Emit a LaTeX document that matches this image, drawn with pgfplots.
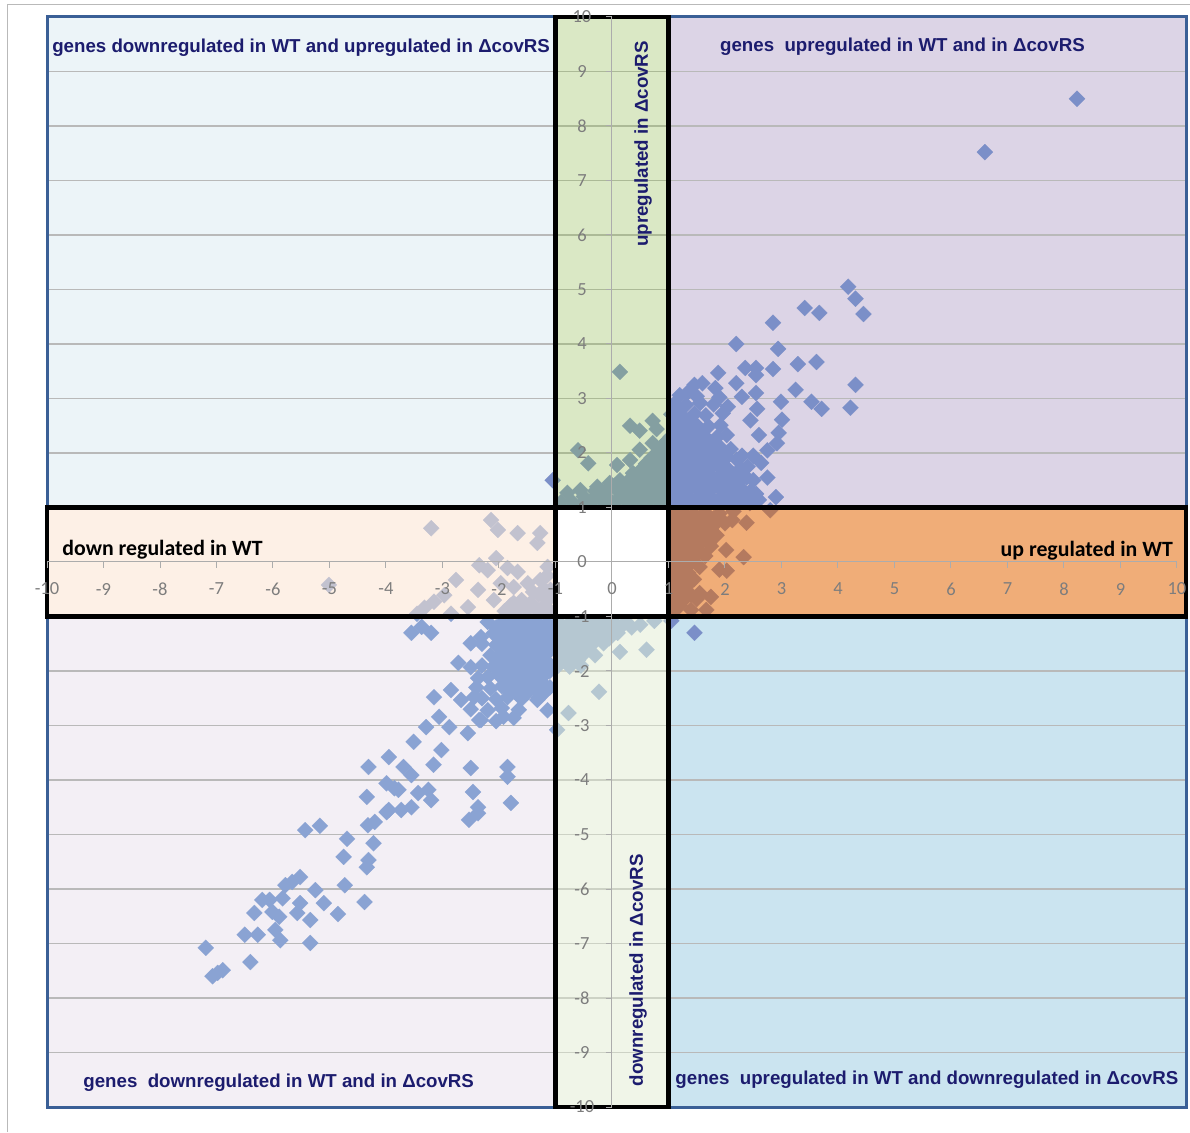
\documentclass[border=0pt]{standalone}
\usepackage{fontspec}
\usepackage{pgfplots}
\pgfplotsset{compat=1.18}
\setmainfont{Liberation Sans}
\newfontfamily\carlito{Carlito}
\definecolor{bgTL}{RGB}{236,244,248}
\definecolor{bgTR}{RGB}{220,212,230}
\definecolor{bgBL}{RGB}{243,239,245}
\definecolor{bgBR}{RGB}{203,228,240}
\definecolor{ovTG}{RGB}{150,190,90}
\definecolor{ovBG}{RGB}{225,235,209}
\definecolor{ovPE}{RGB}{251,225,205}
\definecolor{ovOR}{RGB}{228,105,10}
\definecolor{ptA}{RGB}{123,143,200}
\definecolor{ptB}{RGB}{138,163,211}
\definecolor{qblue}{RGB}{58,95,150}
\definecolor{navy}{RGB}{28,28,110}
\definecolor{gridc}{RGB}{185,185,185}
\definecolor{ticklab}{RGB}{125,125,125}
\newcommand{\titlefont}{\bfseries\fontsize{18.7}{20}\selectfont}
\begin{document}
\begin{tikzpicture}
\path[use as bounding box] (-47pt,-25pt) rectangle (1143pt,1107pt);
\begin{axis}[
  at={(0pt,0pt)}, anchor=south west,
  width=1130pt, height=1090pt, scale only axis,
  xmin=-10, xmax=10, ymin=-10, ymax=10, enlargelimits=false,
  axis lines=middle, axis on top, clip=false, clip marker paths=true,
  axis line style={draw=gray!65, line width=1pt, -},
  xtick={-10,...,10}, ytick={-10,...,10},
  hide obscured x ticks=false, hide obscured y ticks=false,
  tick align=outside, major tick length=6pt,
  every tick/.style={draw=gray!65, line width=1pt},
  /pgf/number format/assume math mode=true,
  tick label style={font=\carlito\fontsize{18.5}{18.5}\selectfont, text=ticklab},
  xticklabel style={anchor=center, yshift=-21pt},
  yticklabel style={anchor=center, xshift=-24pt},
]
\fill[bgTL] (axis cs:-10,1) rectangle (axis cs:-1,10);
\fill[bgTR] (axis cs:1,1) rectangle (axis cs:10.16,10);
\fill[bgBL] (axis cs:-10,-10) rectangle (axis cs:-1,-1);
\fill[bgBR] (axis cs:1,-10) rectangle (axis cs:10.16,-1);
\draw[gridc, line width=1.5pt]
 (axis cs:-10,1) -- (axis cs:10.16,1) (axis cs:-10,2) -- (axis cs:10.16,2)
 (axis cs:-10,3) -- (axis cs:10.16,3) (axis cs:-10,4) -- (axis cs:10.16,4)
 (axis cs:-10,5) -- (axis cs:10.16,5) (axis cs:-10,6) -- (axis cs:10.16,6)
 (axis cs:-10,7) -- (axis cs:10.16,7) (axis cs:-10,8) -- (axis cs:10.16,8)
 (axis cs:-10,9) -- (axis cs:10.16,9)
 (axis cs:-10,-1) -- (axis cs:10.16,-1) (axis cs:-10,-2) -- (axis cs:10.16,-2)
 (axis cs:-10,-3) -- (axis cs:10.16,-3) (axis cs:-10,-4) -- (axis cs:10.16,-4)
 (axis cs:-10,-5) -- (axis cs:10.16,-5) (axis cs:-10,-6) -- (axis cs:10.16,-6)
 (axis cs:-10,-7) -- (axis cs:10.16,-7) (axis cs:-10,-8) -- (axis cs:10.16,-8)
 (axis cs:-10,-9) -- (axis cs:10.16,-9);
% series A (upper right)
\addplot[ptA, only marks, mark=square*, mark size=5.7pt, mark options={rotate=45, draw=ptA, fill=ptA, line width=0.1pt}] table {
x y
8.23 8.50
6.60 7.52
4.18 5.05
4.31 4.83
4.45 4.55
3.41 4.66
3.67 4.57
2.85 4.39
2.20 4.00
2.94 3.91
2.36 3.56
2.55 3.56
2.55 3.43
2.85 3.54
3.29 3.63
3.62 3.67
1.88 3.47
1.46 3.25
1.83 3.19
2.20 3.28
2.30 3.03
2.55 3.10
2.99 2.94
3.25 3.16
4.31 3.25
3.53 2.94
3.71 2.81
4.22 2.83
2.57 2.81
3.01 2.61
2.95 2.37
2.92 2.18
2.60 2.33
2.64 1.82
2.90 1.19
2.60 1.14
1.60 3.28
1.35 3.12
2.05 2.85
2.45 2.60
2.75 2.05
2.50 1.95
2.75 1.55
2.45 1.30
2.50 1.50
2.40 1.75
2.30 1.95
2.55 1.25
1.05 1.10
1.27 1.08
1.46 1.12
1.66 1.07
1.86 1.11
2.06 1.06
2.27 1.12
2.44 1.08
1.12 1.31
1.31 1.28
1.52 1.32
1.71 1.29
1.92 1.33
2.11 1.27
2.32 1.31
1.04 1.50
1.24 1.52
1.46 1.48
1.64 1.53
1.86 1.49
2.06 1.52
2.24 1.47
2.38 1.55
1.11 1.71
1.29 1.68
1.51 1.72
1.70 1.69
1.91 1.73
2.08 1.68
2.28 1.72
1.05 1.90
1.26 1.92
1.44 1.88
1.66 1.91
1.84 1.89
2.04 1.93
2.21 1.88
1.12 2.11
1.30 2.08
1.51 2.12
1.69 2.09
1.90 2.12
2.10 2.07
1.04 2.30
1.26 2.32
1.46 2.28
1.64 2.31
1.86 2.29
2.03 2.33
1.11 2.50
1.31 2.48
1.49 2.52
1.71 2.49
1.92 2.51
1.05 2.71
1.24 2.68
1.46 2.72
1.66 2.69
1.96 2.73
1.10 2.90
1.31 2.88
1.56 2.92
1.80 2.89
1.20 3.06
1.50 3.04
1.90 3.02
1.15 1.20
1.35 1.20
1.55 1.20
1.75 1.20
1.95 1.20
2.15 1.20
2.35 1.20
1.15 1.40
1.35 1.40
1.55 1.40
1.75 1.40
1.95 1.40
2.15 1.40
1.15 1.60
1.35 1.60
1.55 1.60
1.75 1.60
1.95 1.60
2.15 1.60
1.15 1.80
1.35 1.80
1.55 1.80
1.75 1.80
1.95 1.80
1.15 2.00
1.35 2.00
1.55 2.00
1.75 2.00
1.95 2.00
1.15 2.20
1.35 2.20
1.55 2.20
1.75 2.20
1.15 2.40
1.35 2.40
1.55 2.40
1.15 2.60
1.35 2.60
1.15 2.80
0.14 3.49
0.32 2.50
0.49 2.41
0.72 2.59
0.79 2.44
-0.60 2.05
-0.42 1.81
0.09 1.78
0.32 1.87
0.49 2.06
0.72 2.18
-0.79 1.27
-0.56 1.32
-0.26 1.38
-0.04 1.45
0.14 1.50
0.37 1.63
0.61 1.74
0.79 1.87
-0.16 1.19
0.26 1.27
0.61 1.32
0.79 1.45
-1.05 1.50
-0.15 1.10
0.05 1.08
0.25 1.12
0.45 1.07
0.65 1.11
0.85 1.09
0.10 1.31
0.30 1.28
0.50 1.32
0.70 1.29
0.90 1.30
0.30 1.50
0.50 1.52
0.70 1.48
0.90 1.51
0.52 1.70
0.70 1.72
0.90 1.69
0.70 1.91
0.90 1.90
0.86 2.10
-0.90 1.10
-0.70 1.10
-0.50 1.10
-0.35 1.10
-0.50 1.20
-0.30 1.20
-0.10 1.20
0.15 1.20
0.35 1.20
0.55 1.20
0.75 1.20
0.95 1.20
-0.30 1.30
-0.10 1.30
0.05 1.40
0.20 1.40
0.40 1.40
0.60 1.40
0.80 1.40
0.95 1.40
0.40 1.60
0.60 1.60
0.80 1.60
0.95 1.60
0.60 1.80
0.80 1.80
0.95 1.80
0.80 2.00
0.95 2.00
0.95 2.20
1.32 0.77
1.55 0.59
1.85 0.72
2.13 0.77
2.38 0.72
1.72 0.35
2.02 0.22
2.33 0.09
2.03 -0.16
1.37 -0.39
1.67 -0.88
2.80 0.95
1.05 0.90
1.25 0.92
1.45 0.88
1.65 0.91
1.90 0.89
2.15 0.93
1.10 0.70
1.30 0.68
1.50 0.72
1.70 0.69
2.00 0.71
1.05 0.50
1.25 0.52
1.45 0.48
1.65 0.51
1.85 0.49
1.10 0.30
1.30 0.28
1.50 0.32
1.75 0.29
1.05 0.10
1.25 0.12
1.45 0.08
1.65 0.11
1.10 -0.10
1.30 -0.12
1.55 -0.09
1.90 -0.14
1.05 -0.30
1.25 -0.28
1.45 -0.32
1.10 -0.50
1.30 -0.52
1.55 -0.57
1.05 -0.70
1.25 -0.72
1.50 -0.68
1.75 -0.64
1.10 -0.90
1.40 -0.88
1.15 0.80
1.35 0.80
1.55 0.80
1.80 0.80
1.15 0.60
1.35 0.60
1.55 0.60
1.75 0.60
1.15 0.40
1.35 0.40
1.60 0.40
1.15 0.20
1.35 0.20
1.55 0.20
1.15 0.00
1.40 0.00
1.15 -0.20
1.35 -0.20
1.15 -0.40
1.35 -0.40
1.15 -0.60
1.40 -0.60
1.20 -0.80
1.46 -1.30
1.05 -1.08
};
% series B (lower left)
\addplot[ptB, only marks, mark=square*, mark size=5.7pt, mark options={rotate=45, draw=ptB, fill=ptB, line width=0.1pt}] table {
x y
-3.20 0.62
-2.14 0.77
-2.02 0.59
-1.67 0.53
-1.27 0.53
-1.32 0.35
-2.05 0.07
-2.35 -0.06
-2.20 -0.15
-1.85 -0.11
-1.67 -0.18
-1.97 -0.39
-1.74 -0.46
-1.49 -0.39
-1.27 -0.33
-1.14 -0.09
-2.76 -0.33
-2.37 -0.51
-2.97 -0.61
-3.15 -0.73
-3.32 -0.84
-2.55 -0.83
-2.09 -0.70
-1.74 -0.75
-1.44 -0.75
-1.14 -0.70
-1.09 -0.51
-5.01 -0.42
-1.90 -0.90
-1.70 -0.92
-1.50 -0.88
-1.30 -0.91
-1.10 -0.89
-1.60 -0.70
-1.40 -0.55
-1.20 -0.50
-1.15 -0.25
-2.85 -0.95
-3.45 -0.95
-1.80 -0.80
-1.60 -0.80
-1.40 -0.80
-1.20 -0.80
-1.30 -0.60
-1.10 -0.60
-3.55 -1.30
-3.37 -1.19
-3.20 -1.30
-2.50 -1.49
-2.32 -1.38
-2.72 -1.85
-2.50 -1.93
-2.37 -2.13
-3.15 -2.48
-2.85 -2.35
-2.67 -2.53
-2.44 -2.48
-1.85 -2.35
-1.74 -2.11
-1.49 -2.22
-1.32 -2.53
-1.14 -2.72
-3.06 -2.84
-2.88 -3.03
-2.55 -3.14
-2.32 -2.90
-1.92 -2.84
-1.74 -2.86
-3.51 -3.30
-3.29 -3.03
-3.02 -3.45
-3.95 -3.58
-3.69 -3.76
-3.55 -3.91
-3.16 -3.72
-2.50 -3.78
-1.85 -3.76
-1.85 -3.94
-2.46 -4.22
-2.37 -4.50
-2.53 -4.73
-1.79 -4.42
-3.25 -4.18
-3.20 -4.37
-3.78 -4.18
-3.95 -4.55
-3.73 -4.55
-3.55 -4.50
-3.43 -4.24
-2.37 -4.61
-4.31 -3.76
-3.99 -4.06
-3.85 -4.15
-3.99 -4.59
-4.34 -4.31
-4.20 -4.77
-4.32 -4.83
-4.22 -5.16
-4.31 -5.47
-4.34 -5.60
-4.75 -5.41
-4.69 -5.08
-5.17 -4.84
-5.43 -4.92
-4.38 -6.24
-4.73 -5.93
-4.85 -6.46
-5.10 -6.26
-5.25 -6.02
-5.52 -6.26
-5.34 -6.99
-5.34 -6.57
-5.57 -6.44
-5.52 -5.78
-5.66 -5.87
-5.78 -5.93
-5.83 -6.17
-5.87 -6.94
-5.96 -6.75
-5.89 -6.51
-6.01 -6.42
-6.06 -6.20
-6.19 -6.20
-6.33 -6.44
-6.27 -6.84
-6.50 -6.84
-6.40 -7.34
-6.89 -7.49
-6.98 -7.54
-7.07 -7.60
-7.19 -7.08
-2.20 -1.10
-1.95 -1.12
-1.75 -1.08
-1.55 -1.11
-1.35 -1.09
-1.15 -1.12
-2.10 -1.31
-1.90 -1.28
-1.70 -1.32
-1.50 -1.29
-1.30 -1.31
-1.10 -1.28
-2.30 -1.50
-2.05 -1.52
-1.85 -1.48
-1.65 -1.51
-1.45 -1.49
-1.25 -1.52
-1.05 -1.50
-2.15 -1.71
-1.95 -1.68
-1.75 -1.72
-1.55 -1.69
-1.35 -1.71
-1.15 -1.68
-2.30 -1.90
-2.10 -1.92
-1.90 -1.88
-1.70 -1.91
-1.50 -1.89
-1.30 -1.92
-1.10 -1.88
-2.20 -2.11
-2.00 -2.08
-1.80 -2.12
-1.60 -2.09
-1.40 -2.11
-1.20 -2.08
-2.40 -2.30
-2.15 -2.32
-1.95 -2.28
-1.75 -2.31
-1.55 -2.29
-1.35 -2.33
-1.10 -2.30
-2.30 -2.50
-2.05 -2.52
-1.85 -2.48
-1.60 -2.51
-1.30 -2.49
-2.50 -2.70
-2.20 -2.72
-1.95 -2.68
-1.65 -2.71
-2.35 -2.90
-2.05 -2.92
-2.05 -1.20
-1.85 -1.20
-1.65 -1.20
-1.45 -1.20
-1.25 -1.20
-1.05 -1.20
-2.00 -1.40
-1.80 -1.40
-1.60 -1.40
-1.40 -1.40
-1.20 -1.40
-1.95 -1.60
-1.75 -1.60
-1.55 -1.60
-1.35 -1.60
-1.15 -1.60
-2.00 -1.80
-1.80 -1.80
-1.60 -1.80
-1.40 -1.80
-1.20 -1.80
-1.90 -2.00
-1.70 -2.00
-1.50 -2.00
-1.30 -2.00
-1.10 -2.00
-1.85 -2.20
-1.65 -2.20
-1.45 -2.20
-1.25 -2.20
-1.70 -2.40
-1.50 -2.40
-1.20 -2.40
-0.77 -2.77
-0.23 -2.38
0.14 -1.65
0.61 -1.61
-0.97 -3.08
-0.55 -1.90
-0.95 -1.10
-0.75 -1.12
-0.55 -1.08
-0.35 -1.11
-0.15 -1.09
0.05 -1.12
0.25 -1.10
0.50 -1.15
0.75 -1.08
-0.90 -1.31
-0.70 -1.28
-0.50 -1.32
-0.30 -1.29
-0.10 -1.31
0.10 -1.30
-0.95 -1.50
-0.75 -1.52
-0.55 -1.48
-0.35 -1.51
-0.15 -1.49
-0.90 -1.70
-0.70 -1.72
-0.50 -1.69
-0.30 -1.71
-0.95 -1.90
-0.75 -1.92
-0.85 -1.20
-0.65 -1.20
-0.45 -1.20
-0.25 -1.20
-0.05 -1.20
0.15 -1.20
0.35 -1.20
-0.85 -1.40
-0.65 -1.40
-0.45 -1.40
-0.25 -1.40
-0.05 -1.40
-0.85 -1.60
-0.65 -1.60
-0.45 -1.60
-0.85 -1.80
-0.60 -1.80
};
\fill[ovTG, fill opacity=0.35] (axis cs:-1,1) rectangle (axis cs:1,10);
\fill[ovBG, fill opacity=0.5] (axis cs:-1,-10) rectangle (axis cs:1,-1);
\fill[ovPE, fill opacity=0.5] (axis cs:-10,-1) rectangle (axis cs:-1,1);
\fill[ovOR, fill opacity=0.55] (axis cs:1,-1) rectangle (axis cs:10.16,1);
\fill[white] (axis cs:-1,-1) rectangle (axis cs:1,1);
\draw[qblue, line width=3pt] (axis cs:-10,1) rectangle (axis cs:-1,10);
\draw[qblue, line width=3pt] (axis cs:1,1) rectangle (axis cs:10.16,10);
\draw[qblue, line width=3pt] (axis cs:-10,-10) rectangle (axis cs:-1,-1);
\draw[qblue, line width=3pt] (axis cs:1,-10) rectangle (axis cs:10.16,-1);
\draw[black, line width=4.5pt] (axis cs:-1,-10) rectangle (axis cs:1,10);
\draw[black, line width=4.5pt] (axis cs:-10,-1) rectangle (axis cs:10.16,1);
\node[anchor=west, inner sep=0pt, text=navy, font=\titlefont] at (axis cs:-9.91,9.43) {genes downregulated in WT and upregulated in ΔcovRS};
\node[anchor=west, inner sep=0pt, text=navy, font=\titlefont] at (axis cs:1.91,9.45) {genes~ upregulated in WT and in ΔcovRS};
\node[anchor=west, inner sep=0pt, text=navy, font=\titlefont] at (axis cs:-9.36,-9.56) {genes~ downregulated in WT and in ΔcovRS};
\node[anchor=west, inner sep=0pt, text=navy, font=\titlefont] at (axis cs:1.12,-9.50) {genes~ upregulated in WT and downregulated in ΔcovRS};
\node[rotate=90, inner sep=0pt, text=navy, font=\titlefont] at (axis cs:0.55,7.67) {upregulated in ΔcovRS};
\node[rotate=90, inner sep=0pt, text=navy, font=\titlefont] at (axis cs:0.46,-7.49) {downregulated in ΔcovRS};
\node[anchor=west, inner sep=0pt, text=black, font=\carlito\bfseries\fontsize{21.8}{22}\selectfont] at (axis cs:-9.73,0.22) {down regulated in WT};
\node[anchor=east, inner sep=0pt, text=black, font=\carlito\bfseries\fontsize{21.8}{22}\selectfont] at (axis cs:9.93,0.20) {up regulated in WT};
\end{axis}
\draw[gray!55, line width=1pt] (-39pt,-25pt) -- (-39pt,1102pt) -- (1143pt,1102pt);
\end{tikzpicture}
\end{document}
